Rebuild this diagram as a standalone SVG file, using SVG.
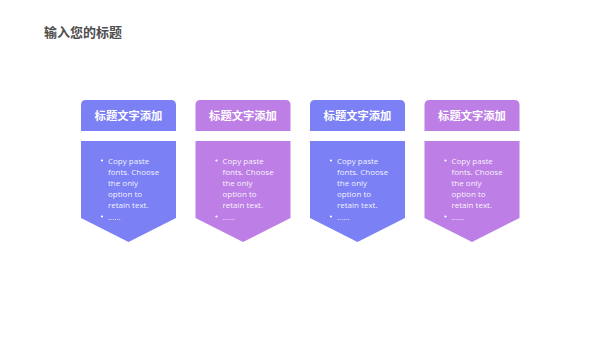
<svg xmlns="http://www.w3.org/2000/svg" width="600" height="338" viewBox="0 0 600 338">
<style>
.title{font-family:"Noto Sans CJK SC","Noto Sans",sans-serif;font-size:13px;font-weight:bold;fill:#4d4d4d}
.head{font-family:"Noto Sans CJK SC","Noto Sans",sans-serif;font-size:11.3px;font-weight:bold;fill:#ffffff;text-anchor:middle}
.body{font-family:"Open Sans","Liberation Sans","Noto Sans",sans-serif;font-size:8px;fill:#ffffff;fill-opacity:0.92}
.blue{fill:#7b80f5}
.purple{fill:#bd7fe6}
</style>
<defs>
<path id="hdr" d="M0,31 V5 Q0,0 5,0 H90 Q95,0 95,5 V31 Z"/>
<path id="bdy" d="M0,41 H95 V118 L47.5,142 L0,118 Z"/>
<g id="txt">
<circle cx="21" cy="160.5" r="1.1" fill="#ffffff"/>
<text class="body" x="27" y="163.5">Copy paste</text>
<text class="body" x="27" y="174.5">fonts. Choose</text>
<text class="body" x="27" y="185.5">the only</text>
<text class="body" x="27" y="196.5">option to</text>
<text class="body" x="27" y="207.5">retain text.</text>
<circle cx="21" cy="216.5" r="1.1" fill="#ffffff"/>
<text class="body" x="27" y="219.5">......</text>
</g>
</defs>
<text class="title" x="44" y="37">输入您的标题</text>
<g id="connectors"/>
<g id="card1" transform="translate(81,0)">
<use href="#hdr" class="blue" y="100"/>
<use href="#bdy" class="blue" y="100"/>
<text class="head" x="47.5" y="120">标题文字添加</text>
<use href="#txt"/>
</g>
<g id="card2" transform="translate(195.5,0)">
<use href="#hdr" class="purple" y="100"/>
<use href="#bdy" class="purple" y="100"/>
<text class="head" x="47.5" y="120">标题文字添加</text>
<use href="#txt"/>
</g>
<g id="card3" transform="translate(310,0)">
<use href="#hdr" class="blue" y="100"/>
<use href="#bdy" class="blue" y="100"/>
<text class="head" x="47.5" y="120">标题文字添加</text>
<use href="#txt"/>
</g>
<g id="card4" transform="translate(424.5,0)">
<use href="#hdr" class="purple" y="100"/>
<use href="#bdy" class="purple" y="100"/>
<text class="head" x="47.5" y="120">标题文字添加</text>
<use href="#txt"/>
</g>
</svg>
